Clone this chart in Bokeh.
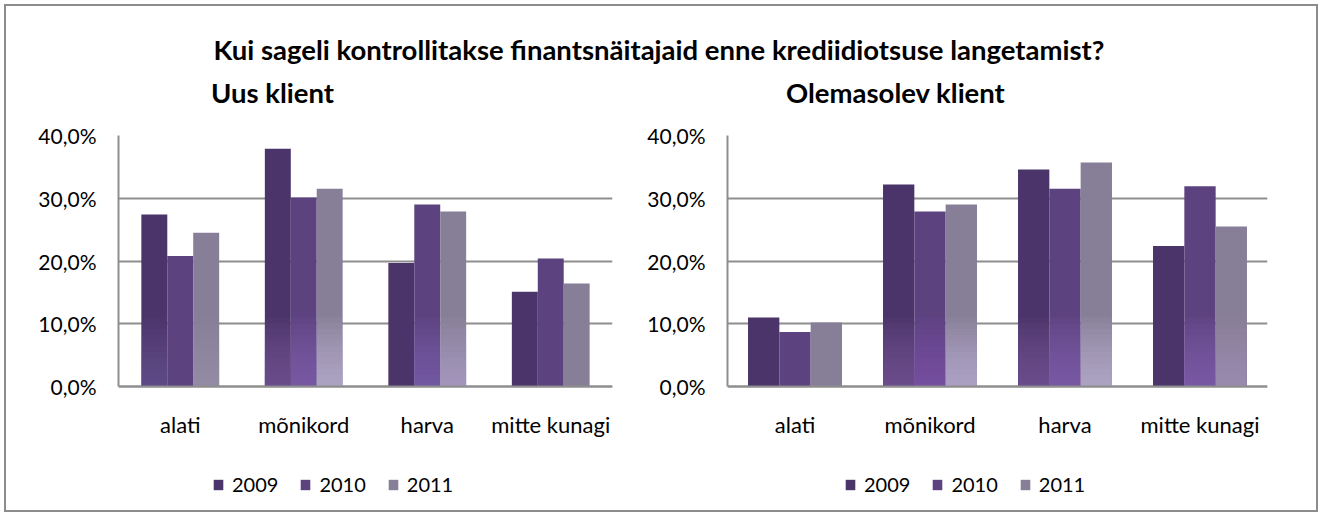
from bokeh.plotting import figure
from bokeh.models import FactorRange, Range1d, FixedTicker, Legend, LegendItem, Div, ColumnDataSource
from bokeh.transform import dodge
from bokeh.layouts import column, row
from bokeh.embed import file_html
from bokeh.resources import INLINE

# ---------------- data ----------------
categories = ["alati", "mõnikord", "harva", "mitte kunagi"]
years = ["2009", "2010", "2011"]

uus_2009 = [27.4, 37.9, 19.7, 15.1]
uus_2010 = [20.8, 30.1, 29.0, 20.4]
uus_2011 = [24.5, 31.5, 27.9, 16.4]

ole_2009 = [11.0, 32.2, 34.6, 22.4]
ole_2010 = [8.7, 27.9, 31.5, 31.9]
ole_2011 = [10.2, 29.0, 35.7, 25.5]

y_ticks = [0, 10, 20, 30, 40]
y_tick_labels = ["0,0%", "10,0%", "20,0%", "30,0%", "40,0%"]

main_title = "Kui sageli kontrollitakse finantsnäitajaid enne krediidiotsuse langetamist?"
sub_titles = ["Uus klient", "Olemasolev klient"]

# ---------------- style ----------------
FONT = "Lato"
colors = ["#4b3469", "#5d4280", "#877e97"]
glow = ["#7b5fa5", "#8a67bd", "#c6b7e2"]
GRID = "#8e8e8e"
N_LAYERS = 12
BAND = 11.0
Y_MAX = 40.0
# frame: 375 px tall, value axis 0..40 occupies the top 251 px
Y_MIN = -Y_MAX * (375 - 251) / 251


def glow_strength(t):
    s = min(max((t - 22.0) / 8.0, 0.0), 1.0)
    return s if s >= 0.25 else 0.0


def make_panel(vals, width, b_left, b_right, bar_w, legend_x):
    p = figure(x_range=FactorRange(*categories, range_padding=0),
               y_range=Range1d(Y_MIN, Y_MAX),
               width=width, height=400,
               min_border_left=b_left, min_border_right=b_right,
               min_border_top=25, min_border_bottom=0,
               output_backend="svg", toolbar_location=None,
               outline_line_color=None, background_fill_color="white",
               border_fill_color="white")
    rs = []
    offs = [-bar_w, 0, bar_w]
    for i, v in enumerate(vals):
        src = ColumnDataSource(dict(cat=categories, top=v))
        r = p.vbar(x=dodge("cat", offs[i], range=p.x_range), top="top", width=bar_w,
                   source=src, fill_color=colors[i], line_color=None)
        rs.append(r)
        # lighter glow towards the bottom of the taller bars
        keep = [j for j, t in enumerate(v) if glow_strength(t) > 0]
        if keep:
            for k in range(1, N_LAYERS + 1):
                gsrc = ColumnDataSource(dict(
                    cat=[categories[j] for j in keep],
                    top=[min(v[j], BAND * k / N_LAYERS) for j in keep],
                    a=[0.085 * glow_strength(v[j]) for j in keep]))
                p.vbar(x=dodge("cat", offs[i], range=p.x_range), top="top", width=bar_w,
                       source=gsrc, fill_color=glow[i], fill_alpha="a", line_color=None)

    p.yaxis.ticker = FixedTicker(ticks=y_ticks)
    p.yaxis.bounds = (0, Y_MAX)
    p.yaxis.major_label_overrides = {t: l for t, l in zip(y_ticks, y_tick_labels)}
    p.yaxis.major_label_text_font = FONT
    p.yaxis.major_label_text_font_size = "21px"
    p.yaxis.major_label_text_color = "#000000"
    p.yaxis.major_tick_out = 0
    p.yaxis.major_tick_in = 0
    p.yaxis.minor_tick_out = 0
    p.yaxis.minor_tick_in = 0
    p.yaxis.major_label_standoff = 22
    p.yaxis.major_tick_line_color = None
    p.yaxis.minor_tick_line_color = None
    p.yaxis.axis_line_color = GRID
    p.yaxis.axis_line_width = 2

    p.xaxis.fixed_location = 0
    p.xaxis.major_label_text_font = FONT
    p.xaxis.major_label_text_font_size = "22px"
    p.xaxis.major_label_text_color = "#000000"
    p.xaxis.major_label_standoff = 18
    p.xaxis.major_tick_line_color = None
    p.xaxis.axis_line_color = GRID
    p.xaxis.axis_line_width = 2

    p.xgrid.grid_line_color = None
    p.ygrid.grid_line_color = GRID
    p.ygrid.grid_line_width = 2

    legend = Legend(items=[LegendItem(label=y, renderers=[r]) for y, r in zip(years, rs)],
                    orientation="horizontal", location=(legend_x, 14),
                    glyph_width=12, glyph_height=13, label_standoff=8, spacing=21,
                    padding=0, margin=0, border_line_color=None,
                    background_fill_alpha=0,
                    label_text_font=FONT, label_text_font_size="20px",
                    label_text_color="#000000")
    p.add_layout(legend, "center")
    return p


p1 = make_panel([uus_2009, uus_2010, uus_2011], 634, 112, 28, 0.21, 94)
p2 = make_panel([ole_2009, ole_2010, ole_2011], 676, 87, 49, 0.232, 117)

html = f'''<div style="position:relative;width:1310px;height:104px;font-family:{FONT};color:#000;">
<div style="position:absolute;left:0;top:28px;width:1306px;text-align:center;font-weight:bold;font-size:27.5px;line-height:32px;white-space:nowrap;">{main_title}</div>
<div style="position:absolute;left:205px;top:71px;font-weight:bold;font-size:27.5px;line-height:32px;white-space:nowrap;">{sub_titles[0]}</div>
<div style="position:absolute;left:780px;top:71px;font-weight:bold;font-size:27.5px;line-height:32px;white-space:nowrap;">{sub_titles[1]}</div>
</div>'''
head = Div(text=html, width=1310, height=104, margin=0)

layout = column(head, row(p1, p2, spacing=0), spacing=0, margin=(4, 0, 0, 4),
                styles={"border": "2px solid #8c8c8c", "background-color": "white"})

open("out.html", "w").write(file_html(layout, INLINE))
